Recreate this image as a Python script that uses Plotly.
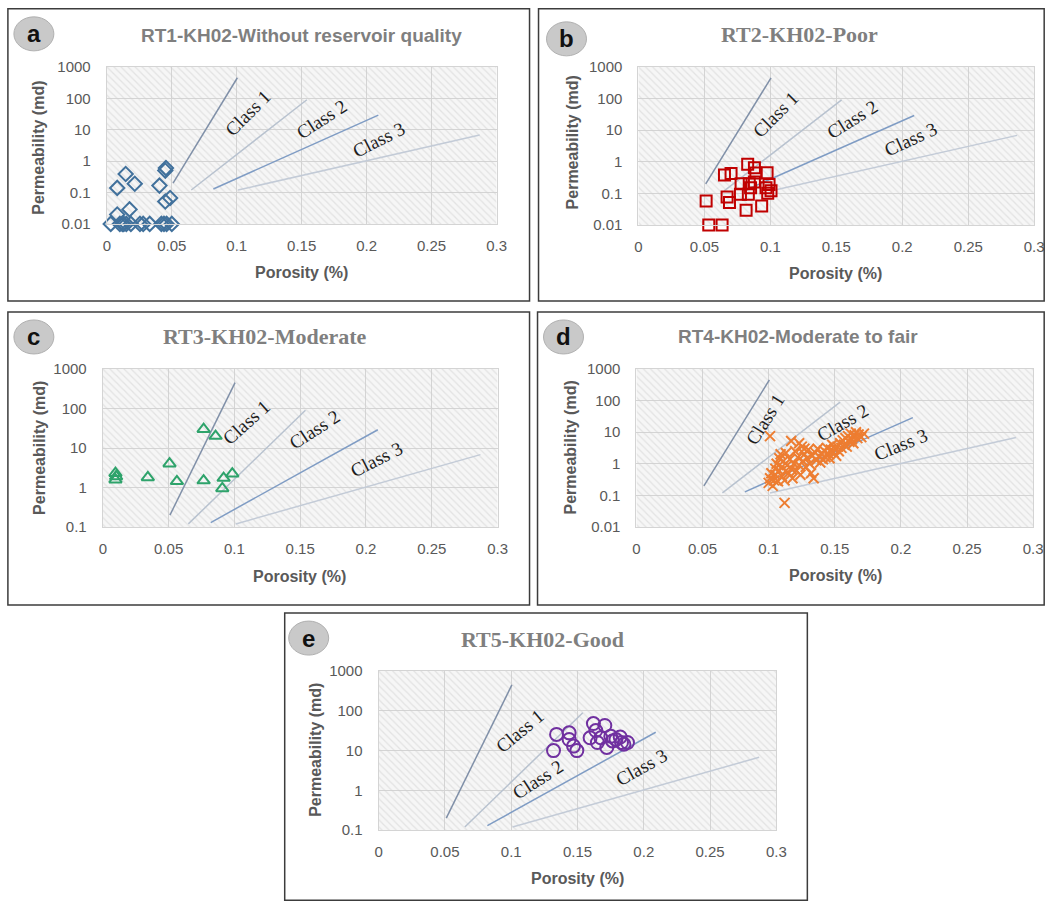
import numpy as np
import plotly.graph_objects as go

W, H = 1051, 902          # reference canvas
# the photographed page shows page coords slightly shrunk: img = K*page + B
KX, BX = 0.9875, 4.1
KY, BY = 0.981, 8.15
FW, FH = 1062, 912

# ---------------- data ----------------
porosity_ticks = [0, 0.05, 0.1, 0.15, 0.2, 0.25, 0.3]
porosity_ticktext = ["0", "0.05", "0.1", "0.15", "0.2", "0.25", "0.3"]
perm_ticks = [0.01, 0.1, 1, 10, 100, 1000]
perm_ticktext = ["0.01", "0.1", "1", "10", "100", "1000"]

# Class boundary lines (porosity, permeability) start / end
class_x0 = [0.051, 0.065, 0.082, 0.101]
class_y0 = [0.2, 0.12, 0.13, 0.12]
class_x1 = [0.1005, 0.154, 0.209, 0.287]
class_y1 = [450, 90, 29, 6.8]

# RT1
a_por = [0.003, 0.008, 0.0145, 0.0215, 0.0175, 0.008, 0.010, 0.013, 0.0185, 0.0255,
         0.028, 0.033, 0.0405, 0.0455, 0.045, 0.0487, 0.045, 0.042, 0.044, 0.046,
         0.050, 0.015, 0.012]
a_perm = [0.01, 0.14, 0.39, 0.19, 0.029, 0.02, 0.01, 0.01, 0.01, 0.01,
          0.01, 0.01, 0.166, 0.6, 0.5, 0.067, 0.052, 0.01, 0.01, 0.01,
          0.01, 0.01, 0.01]

# RT2
b_por = [0.0513, 0.0533, 0.0634, 0.0652, 0.0702, 0.0672, 0.069, 0.0778, 0.0773, 0.0828,
         0.0816, 0.0833, 0.084, 0.0879, 0.089, 0.0879, 0.085, 0.0934, 0.0975, 0.0967,
         0.098, 0.099, 0.1005]
b_perm = [0.057, 0.01, 0.01, 0.38, 0.42, 0.076, 0.051, 0.2, 0.093, 0.83,
          0.029, 0.093, 0.2, 0.64, 0.44, 0.23, 0.15, 0.04, 0.45, 0.15,
          0.1, 0.19, 0.12]

# RT3
c_por = [0.0096, 0.0101, 0.0096, 0.0342, 0.0507, 0.0563, 0.0766, 0.0857, 0.0766, 0.0908,
         0.0918, 0.0984]
c_perm = [2.3, 1.9, 1.58, 1.8, 4.0, 1.44, 30, 20, 1.5, 0.95,
          1.74, 2.24]

# RT4
d_por = [0.101, 0.112, 0.117, 0.123, 0.127,
         0.100, 0.101, 0.102, 0.103, 0.104, 0.105, 0.105, 0.106, 0.107, 0.108,
         0.108, 0.109, 0.110, 0.110, 0.111, 0.112, 0.113, 0.113, 0.114, 0.115,
         0.116, 0.117, 0.118, 0.119, 0.120, 0.121, 0.122, 0.123, 0.124, 0.125,
         0.126, 0.127, 0.128, 0.129, 0.130, 0.131, 0.132, 0.133, 0.134, 0.135,
         0.136, 0.137, 0.138, 0.139, 0.140, 0.141, 0.142, 0.143, 0.144, 0.145,
         0.146, 0.147, 0.148, 0.149, 0.150, 0.151, 0.152, 0.153, 0.154, 0.155,
         0.156, 0.157, 0.158, 0.159, 0.160, 0.161, 0.162, 0.163, 0.164, 0.165,
         0.166, 0.167, 0.168, 0.170, 0.172]
d_perm = [7.5, 0.058, 5.3, 4.5, 3.0,
          0.25, 0.35, 0.5, 0.2, 0.3, 0.7, 0.45, 1.0, 0.28, 0.6,
          1.5, 2.0, 0.4, 0.8, 1.2, 0.3, 0.6, 2.2, 0.9, 0.5,
          1.4, 0.7, 0.35, 1.0, 2.5, 0.6, 1.6, 0.9, 0.45, 3.5,
          1.2, 2.0, 0.8, 1.5, 2.8, 1.0, 0.5, 1.8, 0.35, 2.3,
          1.3, 3.0, 1.7, 1.1, 2.0, 1.4, 2.6, 1.6, 3.2, 2.1,
          1.5, 2.8, 4.0, 2.3, 3.0, 1.8, 3.5, 2.5, 4.5, 3.2,
          5.5, 4.0, 6.5, 3.5, 7.5, 5.0, 9.0, 6.0, 4.5, 8.0,
          10.0, 6.5, 8.5, 7.0, 9.0]

# RT5
e_por = [0.1319, 0.1342, 0.1437, 0.1437, 0.147, 0.1495, 0.162, 0.1638, 0.1595, 0.165,
         0.1706, 0.1721, 0.1751, 0.1764, 0.1822, 0.1832, 0.185, 0.1877, 0.1676, 0.179]
e_perm = [10, 25.6, 28, 19, 13, 10, 48, 32, 21, 16,
          43, 12, 23, 17.5, 22, 16, 14.5, 16, 21, 19]

# ---------------- panel layout (pixels in the reference) ----------------
panels = [
    dict(key="a", title="RT1-KH02-Without reservoir quality", tfont="Liberation Sans", tsize=19,
         por=a_por, perm=a_perm, symbol="diamond-open", msize=11, color="#41719c",
         plot=(107, 497, 66, 223), yr=(0.01, 1000), box=(8, 530, 8, 300),
         badge=(34, 33), ttl=(302, 35), ylab=(39, 147), xlab=(302, 272),
         labels=[(0.108, 34, -45), (0.165, 21, -33), (0.2095, 4.9, -27)]),
    dict(key="b", title="RT2-KH02-Poor", tfont="Liberation Serif", tsize=22,
         por=b_por, perm=b_perm, symbol="square-open", msize=11, color="#c00000",
         plot=(639, 1035, 66, 224), yr=(0.01, 1000), box=(539, 1045, 8, 300),
         badge=(567, 38), ttl=(800, 34), ylab=(573, 142), xlab=(836, 273),
         labels=[(0.104, 31, -45), (0.162, 21, -32), (0.206, 5.1, -25)]),
    dict(key="c", title="RT3-KH02-Moderate", tfont="Liberation Serif", tsize=22,
         por=c_por, perm=c_perm, symbol="triangle-up-open", msize=11, color="#2ea36b",
         plot=(103, 498, 368, 526), yr=(0.1, 1000), box=(8, 530, 311, 604),
         badge=(34, 336), ttl=(265, 336), ylab=(39, 447), xlab=(300, 575),
         labels=[(0.109, 43, -42), (0.161, 29, -33), (0.208, 5.0, -27)]),
    dict(key="d", title="RT4-KH02-Moderate to fair", tfont="Liberation Sans", tsize=19,
         por=d_por, perm=d_perm, symbol="x-thin-open", msize=10, color="#ed7d31",
         plot=(637, 1034, 368, 526), yr=(0.01, 1000), box=(538, 1045, 311, 604),
         badge=(564, 336), ttl=(799, 336), ylab=(571, 447), xlab=(836, 574),
         labels=[(0.097, 26, -58), (0.156, 20, -30), (0.2, 4.2, -22)]),
    dict(key="e", title="RT5-KH02-Good", tfont="Liberation Serif", tsize=22,
         por=e_por, perm=e_perm, symbol="circle-open", msize=13, color="#7030a0",
         plot=(379, 777, 670, 829), yr=(0.1, 1000), box=(285, 808, 612, 899),
         badge=(309, 637), ttl=(543, 638), ylab=(315, 749), xlab=(578, 877),
         labels=[(0.106, 31, -40), (0.12, 1.9, -33), (0.198, 3.7, -29)]),
]

class_colors = ["#8090a8", "#b8c2cf", "#7f9cc4", "#c3cbd7"]
class_names = ["Class 1", "Class 2", "Class 3"]


def px(x):
    return ((x - BX) / KX) / FW


def py(y):
    return 1 - ((y - BY) / KY) / FH


fig = go.Figure()
shapes, annotations = [], []
layout_axes = {}
TICKFONT = dict(family="Liberation Sans", size=15, color="#595959")
LABFONT = dict(family="Liberation Sans", size=16, color="#595959")

for i, p in enumerate(panels):
    n = "" if i == 0 else str(i + 1)
    xa, ya = "x" + n, "y" + n
    x0, x1, y0, y1 = p["plot"]
    lo, hi = np.log10(p["yr"][0]), np.log10(p["yr"][1])
    ticks = [t for t in perm_ticks if p["yr"][0] <= t <= p["yr"][1]]
    ttext = [perm_ticktext[perm_ticks.index(t)] for t in ticks]

    layout_axes["xaxis" + n] = dict(
        domain=[px(x0), min(px(x1), 1)], range=[0, 0.3], anchor=ya,
        tickvals=porosity_ticks, ticktext=porosity_ticktext,
        showgrid=True, gridcolor="#d4d4d4", gridwidth=1.2, zeroline=False,
        showline=True, linecolor="#d4d4d4", linewidth=1.2, mirror=True,
        ticks="outside", ticklen=8, tickcolor="rgba(0,0,0,0)",
        tickfont=TICKFONT,
    )
    layout_axes["yaxis" + n] = dict(
        domain=[py(y1), py(y0)], type="log", range=[lo, hi], anchor=xa,
        tickvals=ticks, ticktext=ttext,
        showgrid=True, gridcolor="#d4d4d4", gridwidth=1.2, zeroline=False,
        showline=True, linecolor="#d4d4d4", linewidth=1.2, mirror=True,
        ticks="outside", ticklen=12, tickcolor="rgba(0,0,0,0)",
        tickfont=TICKFONT,
    )

    # hatched plot background
    fig.add_trace(go.Scatter(
        x=[0, 0.3, 0.3, 0, 0], y=[p["yr"][0], p["yr"][0], p["yr"][1], p["yr"][1], p["yr"][0]],
        xaxis=xa, yaxis=ya, mode="lines", line=dict(width=0), fill="toself",
        fillcolor="rgba(0,0,0,0)",
        fillpattern=dict(shape="\\", fgcolor="#cfcfcf", bgcolor="rgba(0,0,0,0)", size=5, solidity=0.25),
        hoverinfo="skip", showlegend=False,
    ))

    # class boundary lines
    for k in range(4):
        fig.add_trace(go.Scatter(
            x=[class_x0[k], class_x1[k]], y=[class_y0[k], class_y1[k]],
            xaxis=xa, yaxis=ya, mode="lines",
            line=dict(color=class_colors[k], width=1.5),
            hoverinfo="skip", showlegend=False,
        ))

    # data
    fig.add_trace(go.Scatter(
        x=p["por"], y=p["perm"], xaxis=xa, yaxis=ya, mode="markers",
        marker=dict(symbol=p["symbol"], size=p["msize"], color=p["color"],
                    line=dict(width=2, color=p["color"])),
        showlegend=False, cliponaxis=False,
    ))

    # class labels
    for (lx, ly, ang), name in zip(p["labels"], class_names):
        annotations.append(dict(
            x=lx, y=np.log10(ly), xref=xa, yref=ya, text=name, showarrow=False,
            xanchor="center", yanchor="middle",
            textangle=ang, font=dict(family="Liberation Serif", size=19, color="#1e1e1e"),
        ))

    # panel frame
    bx0, bx1, by0, by1 = p["box"]
    shapes.append(dict(type="rect", xref="paper", yref="paper",
                       x0=px(bx0), x1=px(bx1), y0=py(by1), y1=py(by0),
                       line=dict(color="#3c3c3c", width=1.5), fillcolor="rgba(0,0,0,0)"))

    # badge
    cx, cy = p["badge"]
    shapes.append(dict(type="circle", xref="paper", yref="paper",
                       x0=px(cx - 20), x1=px(cx + 20), y0=py(cy + 17), y1=py(cy - 17),
                       line=dict(color="#b0b0b0", width=1), fillcolor="#c9c9c9"))
    annotations.append(dict(x=px(cx), y=py(cy), xref="paper", yref="paper", text="<b>%s</b>" % p["key"],
                            xanchor="center", yanchor="middle",
                            showarrow=False, font=dict(family="Liberation Sans", size=24, color="#111111")))

    # title
    tx, ty = p["ttl"]
    annotations.append(dict(x=px(tx), y=py(ty), xref="paper", yref="paper", text="<b>%s</b>" % p["title"],
                            xanchor="center", yanchor="middle",
                            showarrow=False, font=dict(family=p["tfont"], size=p["tsize"], color="#7f7f7f")))
    # axis titles
    lx, ly = p["ylab"]
    annotations.append(dict(x=px(lx), y=py(ly), xref="paper", yref="paper", text="<b>Permeability (md)</b>",
                            xanchor="center", yanchor="middle",
                            textangle=-90, showarrow=False, font=LABFONT))
    lx, ly = p["xlab"]
    annotations.append(dict(x=px(lx), y=py(ly), xref="paper", yref="paper", text="<b>Porosity (%)</b>",
                            xanchor="center", yanchor="middle",
                            showarrow=False, font=LABFONT))

fig.update_layout(
    width=FW, height=FH, margin=dict(l=0, r=0, t=0, b=0),
    paper_bgcolor="white", plot_bgcolor="#f6f6f6",
    shapes=shapes, annotations=annotations, showlegend=False,
    **layout_axes,
)

fig.write_html("out.html", config={"displayModeBar": False},
               post_script="document.body.style.margin='0px';document.body.style.overflow='hidden';")
